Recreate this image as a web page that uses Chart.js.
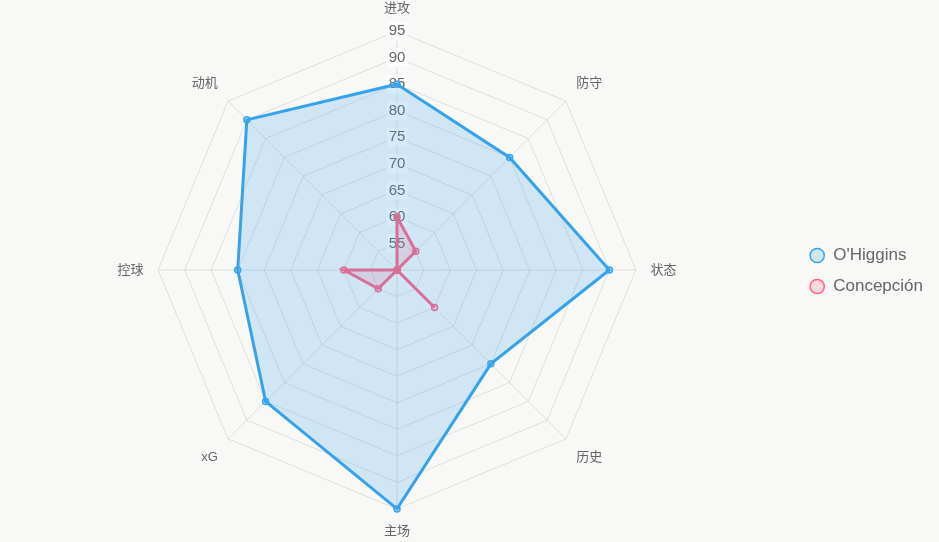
<!DOCTYPE html>
<html>
<head>
<meta charset="utf-8">
<script src="https://cdn.jsdelivr.net/npm/chart.js@4/dist/chart.umd.min.js"></script>
<style>
  html, body { margin: 0; padding: 0; background: #f8f8f7; }
  #wrap { width: 939px; height: 542px; position: relative; }
</style>
</head>
<body>
<div id="wrap"><canvas id="c"></canvas></div>
<script>
const categories = ['进攻', '防守', '状态', '历史', '主场', 'xG', '控球', '动机'];
const seriesNames = ["O'Higgins", 'Concepción'];
const ohigginsValues = [85, 80, 90, 75, 95, 85, 80, 90];
const concepcionValues = [60, 55, 50, 60, 50, 55, 60, 50];
const tickMin = 50;
const tickMax = 95;
const tickStep = 5;

Chart.defaults.font.family = "'Liberation Sans', Arial, 'Noto Sans CJK SC', sans-serif";

new Chart(document.getElementById('c'), {
  type: 'radar',
  data: {
    labels: categories,
    datasets: [
      {
        label: seriesNames[0],
        data: ohigginsValues,
        borderColor: 'rgb(54,162,235)',
        backgroundColor: 'rgba(54,162,235,0.2)',
        borderWidth: 3,
        pointRadius: 3,
        pointBackgroundColor: 'rgba(54,162,235,0.2)',
        pointBorderColor: 'rgb(54,162,235)',
        pointBorderWidth: 1.5
      },
      {
        label: seriesNames[1],
        data: concepcionValues,
        borderColor: 'rgb(255,99,132)',
        backgroundColor: 'rgba(255,99,132,0.2)',
        borderWidth: 3,
        pointRadius: 3,
        pointBackgroundColor: 'rgba(255,99,132,0.2)',
        pointBorderColor: 'rgb(255,99,132)',
        pointBorderWidth: 1.5
      }
    ]
  },
  options: {
    responsive: true,
    maintainAspectRatio: false,
    animation: false,
    layout: { padding: { right: 6, top: 2, bottom: 2, left: 0 } },
    plugins: {
      legend: {
        position: 'right',
        labels: {
          usePointStyle: true,
          pointStyle: 'circle',
          boxWidth: 15,
          boxHeight: 10,
          color: '#666',
          font: { size: 17 },
          padding: 14
        }
      },
      tooltip: { enabled: false }
    },
    scales: {
      r: {
        min: tickMin,
        max: tickMax,
        ticks: {
          stepSize: tickStep,
          color: '#666',
          font: { size: 15 },
          backdropColor: 'rgba(255,255,255,0.75)'
        },
        grid: { color: 'rgba(0,0,0,0.1)' },
        angleLines: { color: 'rgba(0,0,0,0.1)' },
        pointLabels: { color: '#666', font: { size: 13 } }
      }
    }
  }
});
</script>
</body>
</html>
